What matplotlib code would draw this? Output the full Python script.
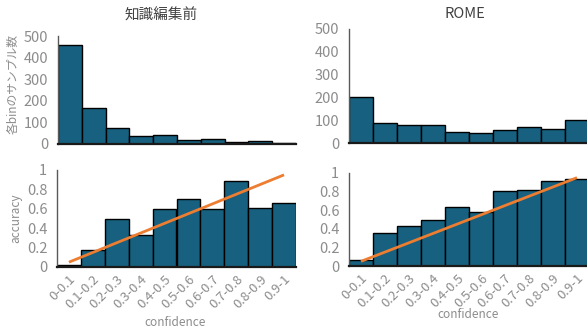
import matplotlib
matplotlib.use("Agg")
import matplotlib.pyplot as plt
import numpy as np

plt.rcParams['font.family'] = ['Noto Sans CJK JP', 'DejaVu Sans']

bins = ["0-0.1", "0.1-0.2", "0.2-0.3", "0.3-0.4", "0.4-0.5",
        "0.5-0.6", "0.6-0.7", "0.7-0.8", "0.8-0.9", "0.9-1"]

before_counts = [458, 168, 74, 37, 42, 18, 22, 10, 12, 6]
rome_counts = [200, 88, 79, 80, 48, 46, 55, 70, 61, 101]

before_acc = [0.02, 0.18, 0.50, 0.33, 0.60, 0.70, 0.60, 0.89, 0.61, 0.66]
rome_acc = [0.06, 0.35, 0.43, 0.50, 0.63, 0.58, 0.81, 0.82, 0.91, 0.94]

ideal = [0.05, 0.15, 0.25, 0.35, 0.45, 0.55, 0.65, 0.75, 0.85, 0.95]

BAR = "#17607f"
LINE = "#ed7d31"
GRAY = "#8c8c8c"

W, H = 587, 331
fig = plt.figure(figsize=(W / 100, H / 100), dpi=100)


def px_axes(x0, x1, ytop, ybot):
    return fig.add_axes([x0 / W, 1 - ybot / H, (x1 - x0) / W, (ybot - ytop) / H])


def style(ax, ymax, yticks, ylabels, bottom_labels):
    x = np.arange(len(bins))
    ax.set_xlim(-0.5, len(bins) - 0.5)
    ax.set_ylim(0, ymax)
    ax.set_yticks(yticks)
    ax.set_yticklabels(ylabels, color=GRAY, fontsize=10.5)
    for s in ("top", "right"):
        ax.spines[s].set_visible(False)
    ax.spines["left"].set_color("#595959")
    ax.spines["left"].set_linewidth(1.0)
    ax.spines["bottom"].set_color("#1a1a1a")
    ax.spines["bottom"].set_linewidth(1.6)
    ax.tick_params(axis="y", length=0, pad=7)
    ax.tick_params(axis="x", length=0, pad=4)
    ax.set_xticks(x)
    if bottom_labels:
        ax.set_xticklabels(bins, rotation=45, ha="right", rotation_mode="anchor",
                           color=GRAY, fontsize=9.5)
    else:
        ax.set_xticklabels([])
    ax.patch.set_alpha(0)


def bars(ax, vals):
    x = np.arange(len(bins))
    ax.bar(x, vals, width=1.0, color=BAR, edgecolor="black", linewidth=1.0, zorder=2)


# top row: sample counts per bin
ax1 = px_axes(58, 296, 36, 144)
bars(ax1, before_counts)
style(ax1, 500, [0, 100, 200, 300, 400, 500], ["0", "100", "200", "300", "400", "500"], False)

ax2 = px_axes(349, 589, 29, 143)
bars(ax2, rome_counts)
style(ax2, 500, [0, 100, 200, 300, 400, 500], ["0", "100", "200", "300", "400", "500"], False)

# bottom row: accuracy per bin with the ideal calibration line
acc_ticks = [0, 0.2, 0.4, 0.6, 0.8, 1.0]
acc_labels = ["0", "0.2", "0.4", "0.6", "0.8", "1"]

ax3 = px_axes(57, 296, 170, 267)
bars(ax3, before_acc)
ax3.plot(np.arange(len(bins)), ideal, color=LINE, linewidth=2.0, zorder=3,
         solid_capstyle="butt")
style(ax3, 1.0, acc_ticks, acc_labels, True)

ax4 = px_axes(349, 589, 173, 266)
bars(ax4, rome_acc)
ax4.plot(np.arange(len(bins)), ideal, color=LINE, linewidth=2.0, zorder=3,
         solid_capstyle="butt")
style(ax4, 1.0, acc_ticks, acc_labels, True)

# titles and axis labels
fig.text(161 / W, 1 - 15 / H, "知識編集前", ha="center", va="center",
         fontsize=10.5, color="#404040")
fig.text(465 / W, 1 - 14 / H, "ROME", ha="center", va="center",
         fontsize=10.5, color="#404040")
fig.text(13 / W, 1 - 84 / H, "各binのサンプル数", ha="center", va="center",
         rotation=90, fontsize=8.5, color=GRAY)
fig.text(16 / W, 1 - 218 / H, "accuracy", ha="center", va="center",
         rotation=90, fontsize=8.5, color=GRAY)
fig.text(175 / W, 1 - 322 / H, "confidence", ha="center", va="center",
         fontsize=8.5, color=GRAY)
fig.text(468 / W, 1 - 314 / H, "confidence", ha="center", va="center",
         fontsize=8.5, color=GRAY)

fig.savefig("out.png", dpi=100, facecolor="white")
